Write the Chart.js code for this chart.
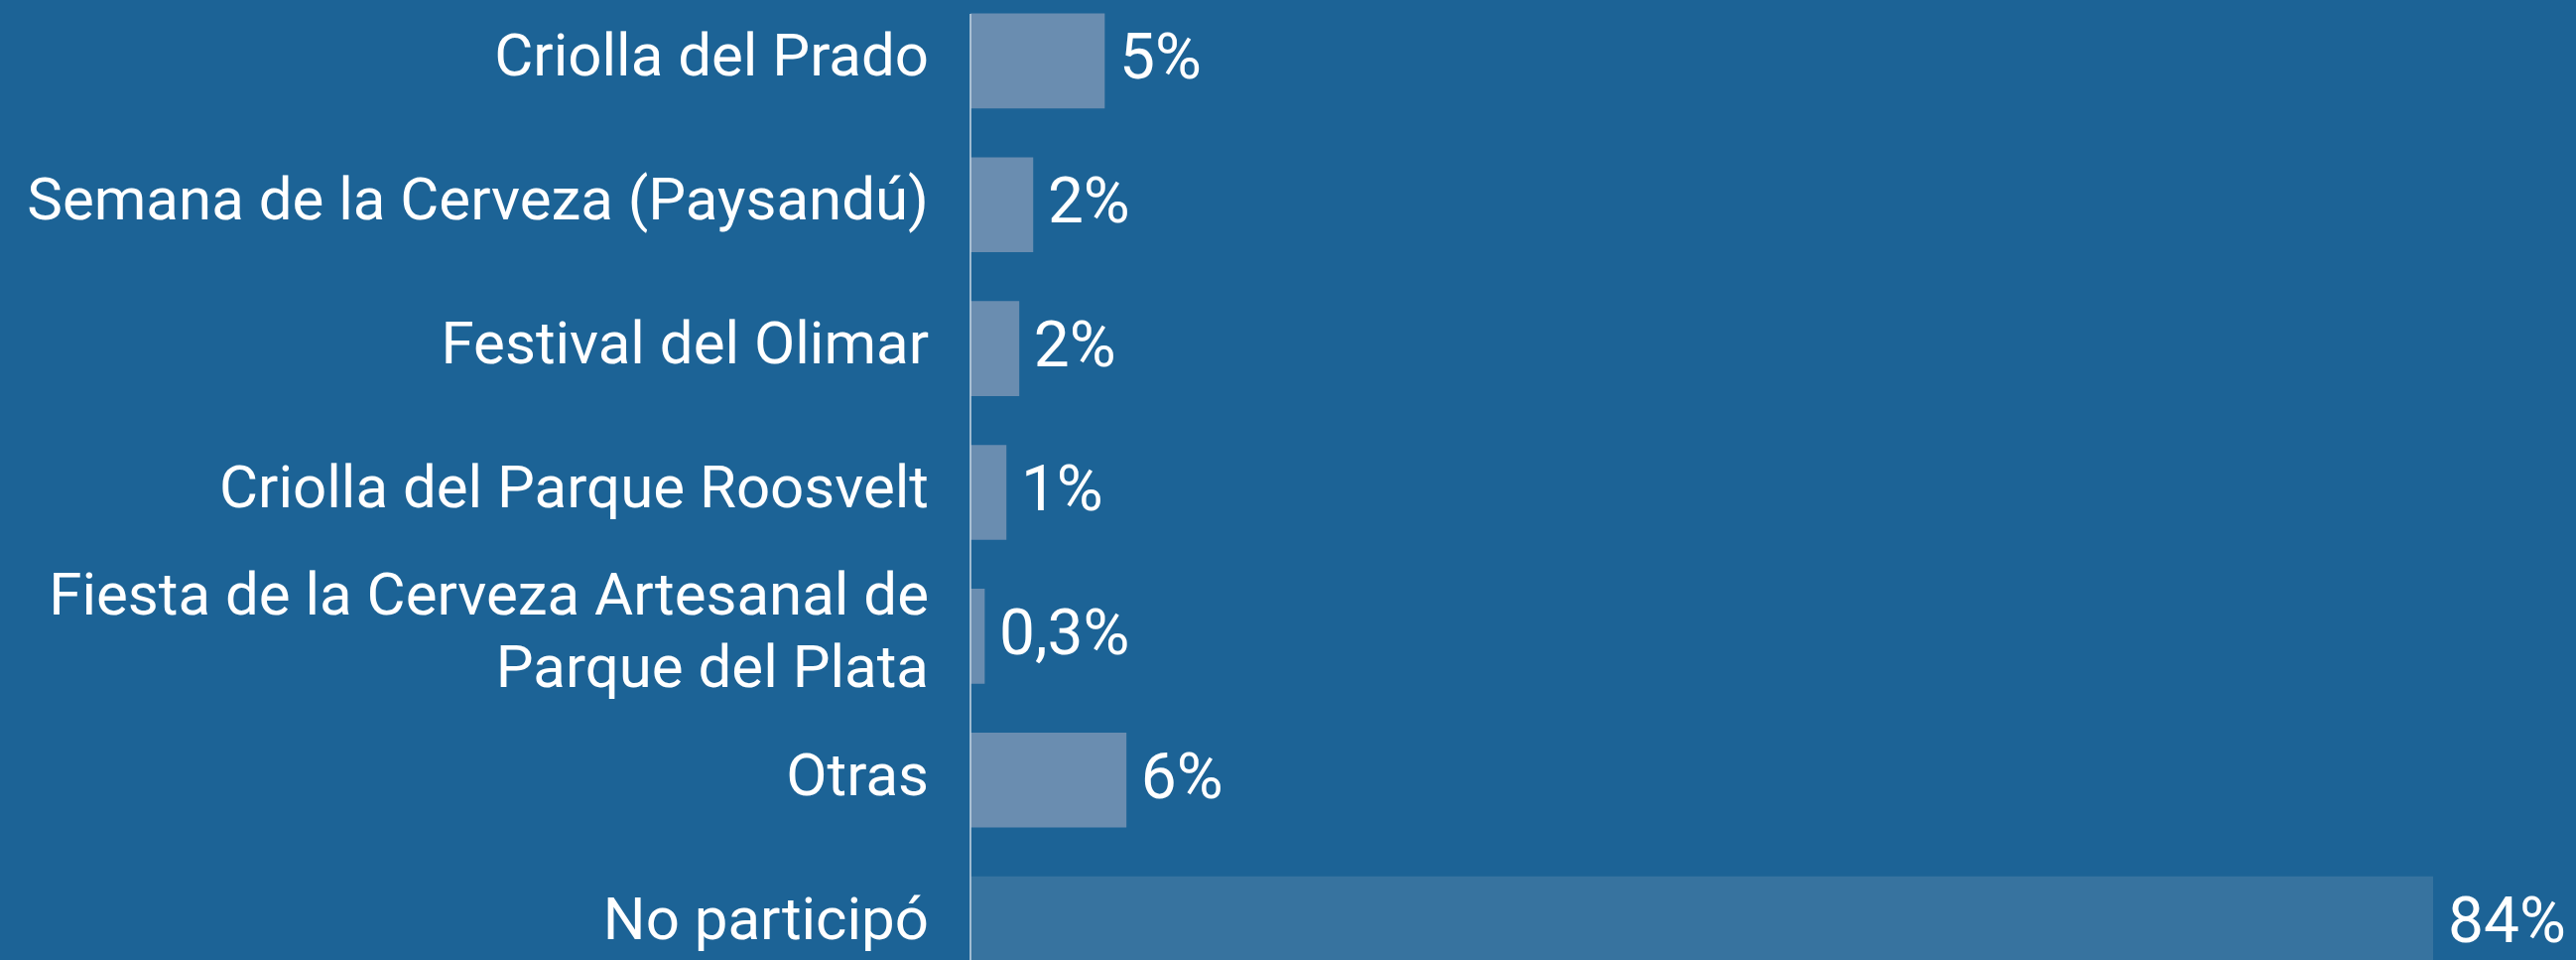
<!DOCTYPE html>
<html>
<head>
<meta charset="utf-8">
<script src="https://cdn.jsdelivr.net/npm/chart.js@4.4.1/dist/chart.umd.min.js"></script>
<style>
  html, body { margin: 0; padding: 0; width: 2596px; height: 967px; overflow: hidden; background: #1c6396; }
  #wrap { position: absolute; left: 0; top: -11px; width: 2596px; height: 1014px; }
</style>
</head>
<body>
<div id="wrap"><canvas id="c"></canvas></div>
<script>
const categories = [
  "Criolla del Prado",
  "Semana de la Cerveza (Paysandú)",
  "Festival del Olimar",
  "Criolla del Parque Roosvelt",
  ["Fiesta de la Cerveza Artesanal de", "Parque del Plata"],
  "Otras",
  "No participó"
];
// bar lengths (percent units); last bar runs past the axis end
const barValues = [5.0, 2.33, 1.81, 1.33, 0.52, 5.81, 84];
const valueLabels = ["5%", "2%", "2%", "1%", "0,3%", "6%", "84%"];
const barColors = ["#6a8db0", "#6a8db0", "#6a8db0", "#6a8db0", "#6a8db0", "#6a8db0", "#37739f"];
const axisMax = 54.6;

const valueLabelPlugin = {
  id: 'valueLabels',
  afterDatasetsDraw(chart) {
    const ctx = chart.ctx;
    const meta = chart.getDatasetMeta(0);
    const area = chart.chartArea;
    ctx.save();
    const first = meta.data[0];
    ctx.strokeStyle = 'rgba(200,215,228,0.75)';
    ctx.lineWidth = 2;
    ctx.beginPath();
    ctx.moveTo(area.left, first.y - first.height / 2);
    ctx.lineTo(area.left, area.bottom);
    ctx.stroke();
    ctx.fillStyle = '#ffffff';
    ctx.font = '64px Roboto';
    ctx.textAlign = 'left';
    ctx.textBaseline = 'middle';
    meta.data.forEach((bar, i) => {
      const x = Math.min(bar.x, area.right) + 15;
      ctx.fillText(valueLabels[i], x, bar.y + 2);
    });
    ctx.restore();
  }
};

new Chart(document.getElementById('c'), {
  type: 'bar',
  data: {
    labels: categories,
    datasets: [{
      data: barValues,
      backgroundColor: barColors,
      borderWidth: 0,
      barThickness: 95,
      clip: 0
    }]
  },
  options: {
    indexAxis: 'y',
    responsive: true,
    maintainAspectRatio: false,
    animation: false,
    layout: { padding: { left: 0, right: 144, top: 0, bottom: 0 } },
    plugins: { legend: { display: false }, tooltip: { enabled: false } },
    scales: {
      x: { display: false, min: 0, max: axisMax },
      y: {
        grid: { display: false, drawTicks: false },
        border: { display: false },
        ticks: {
          color: '#ffffff',
          padding: 42,
          autoSkip: false,
          font: { family: 'Roboto', size: 60, lineHeight: 1.22 }
        },
        afterFit(scale) {
          scale.width = 978;
          scale.paddingTop = 0;
          scale.paddingBottom = 0;
        }
      }
    }
  },
  plugins: [valueLabelPlugin]
});
</script>
</body>
</html>
